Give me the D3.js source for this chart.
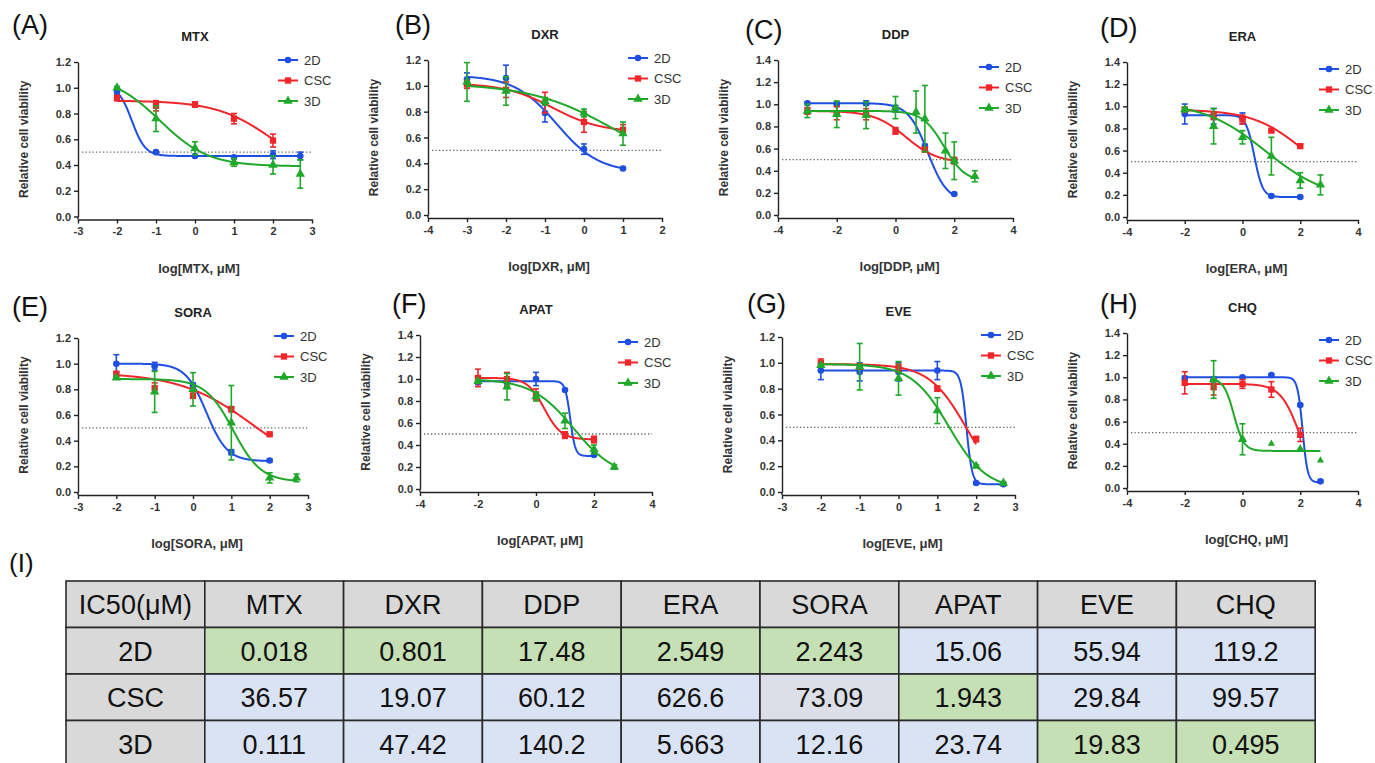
<!DOCTYPE html>
<html>
<head>
<meta charset="utf-8">
<script src="https://cdn.jsdelivr.net/npm/d3@7"></script>
<style>
body { margin: 0; background: #fff; }
svg { display: block; font-family: "Liberation Sans", Arial, sans-serif; }
</style>
</head>
<body>
<svg id="chart" width="1375" height="763"></svg>
<script>
// ---- data ----
const series = ['2D', 'CSC', '3D'];
const drugs = ['MTX', 'DXR', 'DDP', 'ERA', 'SORA', 'APAT', 'EVE', 'CHQ'];
const panelLetters = ['(A)', '(B)', '(C)', '(D)', '(E)', '(F)', '(G)', '(H)'];
const xDomains = [[-3, 3], [-4, 2], [-4, 4], [-4, 4], [-3, 3], [-4, 4], [-3, 3], [-4, 4]];
const xTickSteps = [1, 1, 2, 2, 1, 2, 1, 2];
const yMaxes = [1.2, 1.2, 1.4, 1.4, 1.2, 1.4, 1.2, 1.4];

// [log dose, mean viability, sd]
const MTX_2D  = [[-2, 0.97, 0.02], [-1, 0.50, 0.01], [0, 0.47, 0.01], [1, 0.46, 0.01], [2, 0.48, 0.03], [2.7, 0.47, 0.03]];
const MTX_CSC = [[-2, 0.92, 0.02], [-1, 0.86, 0.04], [0, 0.87, 0.02], [1, 0.76, 0.04], [2, 0.59, 0.05]];
const MTX_3D  = [[-2, 1.00, 0.01], [-1, 0.76, 0.10], [0, 0.53, 0.05], [1, 0.42, 0.03], [2, 0.40, 0.07], [2.7, 0.33, 0.11]];

const DXR_2D  = [[-3, 1.05, 0.05], [-2, 1.06, 0.10], [-1, 0.79, 0.07], [0, 0.51, 0.04], [1, 0.36, 0.01]];
const DXR_CSC = [[-3, 1.01, 0.03], [-2, 0.97, 0.06], [-1, 0.87, 0.08], [0, 0.72, 0.08], [1, 0.66, 0.04]];
const DXR_3D  = [[-3, 1.03, 0.15], [-2, 0.96, 0.11], [-1, 0.88, 0.03], [0, 0.79, 0.03], [1, 0.63, 0.09]];

const DDP_2D  = [[-3, 1.01, 0.01], [-2, 1.00, 0.02], [-1, 1.01, 0.02], [0, 0.96, 0.03], [1, 0.62, 0.02], [2, 0.19, 0.01]];
const DDP_CSC = [[-3, 0.94, 0.03], [-2, 0.92, 0.06], [-1, 0.91, 0.05], [0, 0.76, 0.03], [1, 0.59, 0.02], [2, 0.49, 0.03]];
const DDP_3D  = [[-3, 0.94, 0.06], [-2, 0.91, 0.12], [-1, 0.90, 0.12], [0, 0.97, 0.10], [0.7, 0.93, 0.19],
                 [1, 0.87, 0.30], [1.7, 0.58, 0.16], [2, 0.49, 0.17], [2.7, 0.35, 0.05]];

const ERA_2D  = [[-2, 0.93, 0.09], [-1, 0.91, 0.07], [0, 0.89, 0.05], [1, 0.19, 0.01], [2, 0.18, 0.01]];
const ERA_CSC = [[-2, 0.97, 0.02], [-1, 0.91, 0.03], [0, 0.88, 0.04], [1, 0.78, 0.01], [2, 0.64, 0.01]];
const ERA_3D  = [[-2, 0.97, 0.02], [-1, 0.82, 0.16], [0, 0.72, 0.06], [1, 0.55, 0.17], [2, 0.33, 0.07], [2.7, 0.29, 0.09]];

const SORA_2D  = [[-2, 1.00, 0.07], [-1, 0.98, 0.03], [0, 0.83, 0.02], [1, 0.31, 0.02], [2, 0.245, 0.01]];
const SORA_CSC = [[-2, 0.92, 0.02], [-1, 0.81, 0.04], [0, 0.75, 0.02], [1, 0.645, 0.02], [2, 0.45, 0.01]];
const SORA_3D  = [[-2, 0.89, 0.01], [-1, 0.78, 0.16], [0, 0.80, 0.13], [1, 0.54, 0.29], [2, 0.11, 0.04], [2.7, 0.11, 0.03]];

const APAT_2D  = [[-2, 0.97, 0.02], [-1, 0.97, 0.03], [0, 1.00, 0.06], [1, 0.90, 0.01], [2, 0.31, 0.01]];
const APAT_CSC = [[-2, 1.01, 0.08], [-1, 1.00, 0.06], [0, 0.86, 0.05], [1, 0.49, 0.03], [2, 0.45, 0.03]];
const APAT_3D  = [[-2, 0.98, 0.01], [-1, 0.93, 0.12], [0, 0.84, 0.04], [1, 0.62, 0.07], [2, 0.36, 0.04], [2.7, 0.20, 0.02]];

const EVE_2D  = [[-2, 0.94, 0.07], [-1, 0.93, 0.07], [0, 0.93, 0.07], [1, 0.94, 0.07], [2, 0.07, 0.01], [2.7, 0.06, 0.01]];
const EVE_CSC = [[-2, 1.00, 0.03], [-1, 0.97, 0.02], [0, 0.96, 0.03], [1, 0.80, 0.02], [2, 0.41, 0.02]];
const EVE_3D  = [[-2, 0.98, 0.01], [-1, 0.97, 0.18], [0, 0.88, 0.13], [1, 0.63, 0.10], [2, 0.20, 0.01], [2.7, 0.07, 0.01]];

const CHQ_2D  = [[-2, 0.99, 0.02], [-1, 0.98, 0.02], [0, 1.00, 0.01], [1, 1.02, 0.01], [2, 0.75, 0.01], [2.7, 0.06, 0.01]];
const CHQ_CSC = [[-2, 0.95, 0.10], [-1, 0.91, 0.07], [0, 0.94, 0.04], [1, 0.89, 0.07], [2, 0.48, 0.06]];
const CHQ_3D  = [[-1, 0.98, 0.17], [0, 0.44, 0.14], [1, 0.40, 0], [2, 0.36, 0], [2.7, 0.25, 0]];

// nonlinear fit per series: [top, bottom, logIC50, hill slope]
const MTX_fit  = [[1.02, 0.47, -1.62, 2.5], [0.90, 0.30, 2.0, 0.6], [1.10, 0.39, -0.9, 0.7]];
const DXR_fit  = [[1.08, 0.33, -0.7, 0.8], [1.02, 0.64, -0.8, 0.7], [1.02, 0.30, 0.8, 0.4]];
const DDP_fit  = [[1.01, 0.12, 1.1, 1.3], [0.94, 0.47, 0.35, 0.8], [0.94, 0.30, 1.65, 1.2]];
const ERA_fit  = [[0.92, 0.18, 0.41, 3.0], [0.97, 0.25, 2.1, 0.5], [1.04, 0.15, 0.8, 0.4]];
const SORA_fit = [[1.00, 0.24, 0.35, 1.6], [0.93, 0.10, 1.6, 0.45], [0.88, 0.08, 1.05, 1.2]];
const APAT_fit = [[0.98, 0.30, 1.18, 5.0], [1.01, 0.45, 0.29, 1.5], [1.00, 0.10, 1.3, 0.6]];
const EVE_fit  = [[0.94, 0.06, 1.75, 6.0], [0.99, 0.00, 1.75, 0.9], [0.99, 0.02, 1.3, 0.9]];
const CHQ_fit  = [[1.00, 0.05, 2.08, 5.0], [0.94, 0.00, 2.0, 1.3], [0.99, 0.335, -0.3, 2.5]];

// IC50 table (µM)
const ic50_2D  = ['0.018', '0.801', '17.48', '2.549', '2.243', '15.06', '55.94', '119.2'];
const ic50_CSC = ['36.57', '19.07', '60.12', '626.6', '73.09', '1.943', '29.84', '99.57'];
const ic50_3D  = ['0.111', '47.42', '140.2', '5.663', '12.16', '23.74', '19.83', '0.495'];

const panelSeries = [
  [MTX_2D, MTX_CSC, MTX_3D], [DXR_2D, DXR_CSC, DXR_3D], [DDP_2D, DDP_CSC, DDP_3D], [ERA_2D, ERA_CSC, ERA_3D],
  [SORA_2D, SORA_CSC, SORA_3D], [APAT_2D, APAT_CSC, APAT_3D], [EVE_2D, EVE_CSC, EVE_3D], [CHQ_2D, CHQ_CSC, CHQ_3D]
];
const panelFits = [MTX_fit, DXR_fit, DDP_fit, ERA_fit, SORA_fit, APAT_fit, EVE_fit, CHQ_fit];

// ---- layout ----
const W = 1375;
const colors = ['#1f4fe0', '#f0262b', '#1fa82a'];
const symbols = [d3.symbolCircle, d3.symbolSquare, d3.symbolTriangle];
const symSizes = [34, 40, 38];

// plot frame of each panel: left / right / top (y max) / bottom (y = 0), letter position
const frames = [
  { l: 78,   r: 312,  t: 62,  b: 216.5, lx: 12,   ly: 34 },
  { l: 428,  r: 662,  t: 60,  b: 215,   lx: 395,  ly: 34 },
  { l: 778,  r: 1013, t: 60,  b: 215,   lx: 745,  ly: 39 },
  { l: 1127, r: 1358, t: 62,  b: 217,   lx: 1100, ly: 37 },
  { l: 78,   r: 308,  t: 338, b: 492,   lx: 12,   ly: 316 },
  { l: 420,  r: 652,  t: 335, b: 489,   lx: 392,  ly: 313 },
  { l: 782,  r: 1015, t: 337, b: 492,   lx: 747,  ly: 313 },
  { l: 1127, r: 1358, t: 333, b: 488,   lx: 1100, ly: 313 }
];

const svg = d3.select('#chart');

function fitValue(p, x) {
  return p[1] + (p[0] - p[1]) / (1 + Math.pow(10, (x - p[2]) * p[3]));
}

function drawPanel(i) {
  const f = frames[i];
  const g = svg.append('g').attr('class', 'panel');
  const x = d3.scaleLinear().domain(xDomains[i]).range([f.l, f.r]);
  const y = d3.scaleLinear().domain([0, yMaxes[i]]).range([f.b, f.t]);
  const axisY = f.b + 3;

  // panel letter and title
  g.append('text').attr('x', f.lx).attr('y', f.ly)
    .attr('font-size', 27).attr('fill', '#111').text(panelLetters[i]);
  g.append('text').attr('x', (f.l + f.r) / 2).attr('y', f.t - 21)
    .attr('text-anchor', 'middle').attr('font-size', 13).attr('font-weight', 'bold')
    .attr('fill', '#222').text(drugs[i]);

  // axes
  const yTicks = d3.range(0, yMaxes[i] + 0.001, 0.2);
  const yAxis = g.append('g').attr('transform', `translate(${f.l},0)`)
    .call(d3.axisLeft(y).tickValues(yTicks).tickFormat(d3.format('.1f'))
      .tickSize(4).tickSizeOuter(0).tickPadding(3));
  yAxis.append('line').attr('x1', 0).attr('x2', 0).attr('y1', f.b).attr('y2', axisY);

  const xTicks = d3.range(xDomains[i][0], xDomains[i][1] + 0.001, xTickSteps[i]);
  const xAxis = g.append('g').attr('transform', `translate(0,${axisY})`)
    .call(d3.axisBottom(x).tickValues(xTicks).tickFormat(d => String(d))
      .tickSize(4).tickSizeOuter(0).tickPadding(4));

  [yAxis, xAxis].forEach(a => {
    a.selectAll('path, line').attr('stroke', '#222').attr('stroke-width', 1.4);
    a.selectAll('text').attr('font-size', 11).attr('font-weight', 'bold').attr('fill', '#333')
      .attr('font-family', '"Liberation Sans", Arial, sans-serif');
  });

  g.append('text')
    .attr('transform', `translate(${f.l - 54},${(f.t + f.b) / 2}) rotate(-90)`)
    .attr('text-anchor', 'middle').attr('dy', '0.35em')
    .attr('font-size', 12).attr('font-weight', 'bold').attr('fill', '#333')
    .text('Relative cell viability');
  g.append('text').attr('x', (f.l + f.r) / 2 + 4).attr('y', f.b + 56)
    .attr('text-anchor', 'middle').attr('font-size', 13).attr('font-weight', 'bold').attr('fill', '#333')
    .text(`log[${drugs[i]}, μM]`);

  // 50% reference
  g.append('line')
    .attr('x1', x(xDomains[i][0]) + 4).attr('x2', x(xDomains[i][1]))
    .attr('y1', y(0.5)).attr('y2', y(0.5))
    .attr('stroke', '#666').attr('stroke-width', 1.3).attr('stroke-dasharray', '1.3,2.2');

  // series
  const line = d3.line().x(d => x(d[0])).y(d => y(d[1]));
  panelSeries[i].forEach((pts, s) => {
    const col = colors[s];
    const p = panelFits[i][s];
    const x0 = d3.min(pts, d => d[0]), x1 = d3.max(pts, d => d[0]);
    const curve = d3.range(x0, x1, 0.01).concat([x1]).map(v => [v, fitValue(p, v)]);
    g.append('path').datum(curve).attr('d', line)
      .attr('fill', 'none').attr('stroke', col).attr('stroke-width', 2);

    const eb = g.append('g').attr('stroke', col).attr('stroke-width', 1.6);
    pts.filter(d => d[2] > 0).forEach(d => {
      const cx = x(d[0]), y1 = y(d[1] + d[2]), y2 = y(d[1] - d[2]);
      eb.append('line').attr('x1', cx).attr('x2', cx).attr('y1', y1).attr('y2', y2);
      eb.append('line').attr('x1', cx - 3).attr('x2', cx + 3).attr('y1', y1).attr('y2', y1);
      eb.append('line').attr('x1', cx - 3).attr('x2', cx + 3).attr('y1', y2).attr('y2', y2);
    });

    g.selectAll(null).data(pts).enter().append('path')
      .attr('d', d3.symbol().type(symbols[s]).size(d => d[2] > 0 ? symSizes[s] : 22))
      .attr('transform', d => `translate(${x(d[0])},${y(d[1])})`)
      .attr('fill', col);
  });

  // legend (kept inside the page at the right edge)
  const legDy = yMaxes[i] > 1.3 ? 7 : -2;
  const lx = Math.min(f.r - 34, W - 56);
  series.forEach((name, s) => {
    const ly = f.t + legDy + s * 20.5;
    g.append('line').attr('x1', lx).attr('x2', lx + 20).attr('y1', ly).attr('y2', ly)
      .attr('stroke', colors[s]).attr('stroke-width', 2);
    g.append('path').attr('d', d3.symbol().type(symbols[s]).size(symSizes[s]))
      .attr('transform', `translate(${lx + 10},${ly})`).attr('fill', colors[s]);
    g.append('text').attr('x', lx + 26).attr('y', ly).attr('dy', '0.36em')
      .attr('font-size', 13).attr('fill', '#333').text(name);
  });
}

drugs.forEach((d, i) => drawPanel(i));

// ---- IC50 table ----
const tableRows = [ic50_2D, ic50_CSC, ic50_3D];
const col0 = 66, colW = 138.8, row0 = 581, rowH = 46.5;
const tg = svg.append('g').attr('font-size', 27).attr('fill', '#111');

svg.append('text').attr('x', 9).attr('y', 572).attr('font-size', 26).attr('fill', '#111').text('(I)');

const header = ['IC50(μM)'].concat(drugs);
const cells = [];
header.forEach((h, c) => cells.push({ r: 0, c, text: h, fill: '#d9d9d9' }));
tableRows.forEach((vals, r) => {
  const best = d3.range(drugs.length).map(c =>
    d3.minIndex(tableRows, row => +row[c]) === r);
  cells.push({ r: r + 1, c: 0, text: series[r], fill: '#d9d9d9' });
  vals.forEach((v, c) => cells.push({
    r: r + 1, c: c + 1, text: v,
    fill: best[c] ? '#c5e0b4' : (r === 1 && c === 4 ? '#dcdfe8' : '#dae3f3')
  }));
});

tg.selectAll('rect').data(cells).enter().append('rect')
  .attr('x', d => col0 + d.c * colW).attr('y', d => row0 + d.r * rowH)
  .attr('width', colW).attr('height', rowH)
  .attr('fill', d => d.fill).attr('stroke', '#2a2a2a').attr('stroke-width', 1.6);
tg.selectAll('text').data(cells).enter().append('text')
  .attr('x', d => col0 + d.c * colW + colW / 2).attr('y', d => row0 + d.r * rowH + rowH / 2 + 10)
  .attr('text-anchor', 'middle').text(d => d.text);
</script>
</body>
</html>
